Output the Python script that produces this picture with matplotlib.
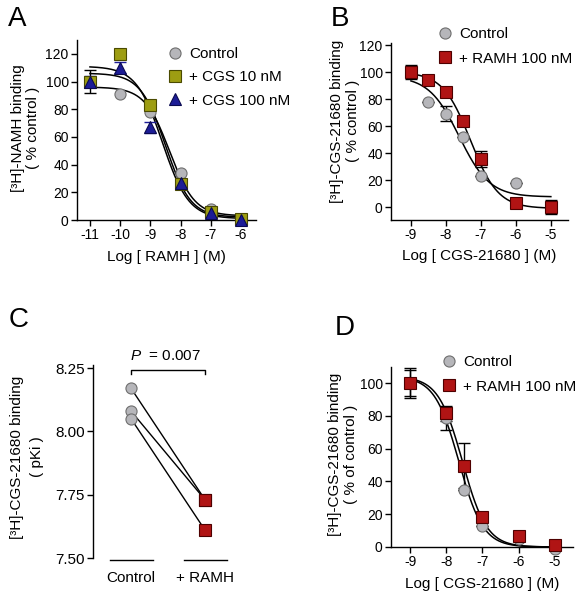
import matplotlib.pyplot as plt
import numpy as np

plt.rcParams['font.family'] = ['Liberation Sans', 'DejaVu Sans']
plt.rcParams['mathtext.fontset'] = 'custom'
plt.rcParams['mathtext.rm'] = 'Liberation Sans'
plt.rcParams['mathtext.it'] = 'Liberation Sans:italic'
plt.rcParams['axes.unicode_minus'] = False

# ---- panel A data: [3H]-NAMH binding vs log[RAMH]
a_logx = [-11, -10, -9, -8, -7, -6]
a_ctrl = [100, 91, 78, 34, 8, 1]
a_cgs10 = [100, 120, 83, 26, 6, 0.5]
a_cgs100 = [100, 110, 67, 27, 5, 0]
a_cgs10_err = [8, 0, 0, 2, 0, 0]
a_cgs100_err = [4, 4, 4, 2, 0, 0]
# fit params: top, bottom, logIC50, hill
a_fit_ctrl = [96, 3, -8.36, 1.05]
a_fit_cgs10 = [106, 2, -8.5, 1.05]
a_fit_cgs100 = [111, 1, -8.6, 1.0]

# ---- panel B data: [3H]-CGS-21680 binding vs log[CGS-21680]
b_logx = [-9, -8.5, -8, -7.5, -7, -6, -5]
b_ctrl = [100, 77.5, 69, 51.6, 23, 18, 0]
b_ramh = [100, 94, 85.5, 64, 35.5, 3, 0]
b_ctrl_err = [0, 0, 5.5, 0, 0, 0, 0]
b_ramh_err = [5, 3, 0, 0, 6, 0, 5]
b_fit_ctrl = [97, 7.5, -7.62, 1.0]
b_fit_ramh = [100, -1, -7.3, 1.1]

# ---- panel C data: pKi
c_groups = ['Control', '+ RAMH']
c_ctrl = [8.17, 8.08, 8.05]
c_ramh = [7.73, 7.73, 7.61]
c_pvalue = '0.007'

# ---- panel D data
d_logx = [-9, -8, -7.5, -7, -6, -5]
d_ctrl = [100, 78.5, 35, 13, 5, -1]
d_ramh = [100, 81.5, 49.6, 18, 6.7, 1.2]
d_ctrl_err = [8, 7.2, 0, 0, 0, 0]
d_ramh_err = [9, 4.5, 13.6, 0, 0, 0]
d_fit_ctrl = [104, 0, -7.65, 1.3]
d_fit_ramh = [104, 0, -7.55, 1.3]

GRAY = '#b6b6ba'
GRAY_E = '#6e6e6e'
OLIVE = '#9d9d12'
OLIVE_E = '#4a4a00'
NAVY = '#1c1c96'
NAVY_E = '#0a0a50'
RED = '#b01414'
RED_E = '#4e0000'

W, H = 586, 600


def logistic(x, top, bottom, logic50, hill):
    return bottom + (top - bottom) / (1 + 10 ** ((x - logic50) * hill))


def rect(left, right, top, bottom):
    return [left / W, 1 - bottom / H, (right - left) / W, (bottom - top) / H]


def style(ax):
    for s in ['top', 'right']:
        ax.spines[s].set_visible(False)
    for s in ['left', 'bottom']:
        ax.spines[s].set_linewidth(1.0)
    ax.tick_params(direction='out', length=4, width=1.0, labelsize=10, pad=2)


def curve(ax, logx, params):
    xs = np.linspace(min(logx), max(logx), 300)
    ax.plot(xs, logistic(xs, *params), color='black', lw=1.1, zorder=2)


def points(ax, x, y, err, marker, fc, ec, label, ms=8, ecol='black'):
    if err is not None:
        ax.errorbar(x, y, yerr=err, fmt='none', ecolor=ecol, elinewidth=1,
                    capsize=4, capthick=1, zorder=3, clip_on=False)
    ax.plot(x, y, linestyle='none', marker=marker, ms=ms, mfc=fc, mec=ec,
            mew=0.8, label=label, zorder=4, clip_on=False)


def legend(ax, x, y, spacing):
    ax.legend(loc='upper left', bbox_to_anchor=(x / W, 1 - y / H),
              bbox_transform=fig.transFigure, frameon=False, borderpad=0,
              borderaxespad=0, handlelength=1.0, handletextpad=0.45,
              labelspacing=spacing, fontsize=11, numpoints=1)


fig = plt.figure(figsize=(W / 100, H / 100), dpi=100)

# ---------------- A
ax = fig.add_axes(rect(77, 256, 40, 220))
style(ax)
for params in (a_fit_ctrl, a_fit_cgs10, a_fit_cgs100):
    curve(ax, a_logx, params)
points(ax, a_logx, a_ctrl, None, 'o', GRAY, GRAY_E, 'Control')
points(ax, a_logx, a_cgs10, a_cgs10_err, 's', OLIVE, OLIVE_E, '+ CGS 10 nM')
points(ax, a_logx, a_cgs100, a_cgs100_err, '^', NAVY, NAVY_E, '+ CGS 100 nM',
       ms=8.5, ecol=NAVY)
ax.set_xlim(-11.43, -5.5)
ax.set_ylim(0, 130)
ax.set_xticks(a_logx)
ax.set_yticks(range(0, 121, 20))
ax.set_xlabel('Log [ RAMH ] (M)', fontsize=11)
ax.xaxis.set_label_coords(0.5, -0.165)
legend(ax, 167, 47, 0.61)
fig.text(25.5 / W, 1 - 128 / H, '[³H]-NAMH binding\n( % control )',
         rotation=90, ha='center', va='center', fontsize=11, linespacing=1.15)
fig.text(8 / W, 1 - 26 / H, 'A', fontsize=20, ha='left', va='baseline')

# ---------------- B
ax = fig.add_axes(rect(391, 568, 43, 220))
style(ax)
curve(ax, b_logx, b_fit_ctrl)
curve(ax, b_logx, b_fit_ramh)
points(ax, b_logx, b_ctrl, b_ctrl_err, 'o', GRAY, GRAY_E, 'Control')
points(ax, b_logx, b_ramh, b_ramh_err, 's', RED, RED_E, '+ RAMH 100 nM')
ax.set_xlim(-9.57, -4.51)
ax.set_ylim(-9.6, 121.5)
ax.set_xticks([-9, -8, -7, -6, -5])
ax.set_yticks(range(0, 121, 20))
ax.set_xlabel('Log [ CGS-21680 ] (M)', fontsize=11)
ax.xaxis.set_label_coords(0.5, -0.165)
legend(ax, 437, 27, 0.7)
fig.text(345 / W, 1 - 121 / H, '[³H]-CGS-21680 binding\n( % control )',
         rotation=90, ha='center', va='center', fontsize=11, linespacing=1.15)
fig.text(331 / W, 1 - 26 / H, 'B', fontsize=20, ha='left', va='baseline')

# ---------------- C
ax = fig.add_axes(rect(93, 235, 365, 558))
for s in ['top', 'right', 'bottom']:
    ax.spines[s].set_visible(False)
ax.spines['left'].set_linewidth(1.0)
ax.tick_params(axis='y', direction='out', length=4, width=1.0, labelsize=11, pad=2)
ax.tick_params(axis='x', length=0, labelsize=11, pad=9)
for yc, yr in zip(c_ctrl, c_ramh):
    ax.plot([0, 1], [yc, yr], color='black', lw=1.0, zorder=2)
ax.plot([0] * len(c_ctrl), c_ctrl, linestyle='none', marker='o', ms=8,
        mfc=GRAY, mec=GRAY_E, mew=0.8, zorder=3)
ax.plot([1] * len(c_ramh), c_ramh, linestyle='none', marker='s', ms=8,
        mfc=RED, mec=RED_E, mew=0.8, zorder=3)
for i in range(len(c_groups)):
    ax.plot([i - 0.29, i + 0.3], [7.493, 7.493], color='black', lw=1.0,
            clip_on=False)
ax.plot([0, 0, 1, 1], [8.226, 8.242, 8.242, 8.226], color='black', lw=1.0,
        clip_on=False)
ax.text(0.47, 8.268, r'$\it{P}$  = ' + c_pvalue, ha='center', va='bottom',
        fontsize=11)
ax.set_xlim(-0.514, 1.405)
ax.set_ylim(7.5, 8.262)
ax.set_xticks(range(len(c_groups)))
ax.set_xticklabels(c_groups)
ax.set_yticks([7.5, 7.75, 8.0, 8.25])
ax.set_yticklabels(['7.50', '7.75', '8.00', '8.25'])
fig.text(27 / W, 1 - 457 / H, '[³H]-CGS-21680 binding\n( pKi )',
         rotation=90, ha='center', va='center', fontsize=11, linespacing=1.5)
fig.text(9 / W, 1 - 327 / H, 'C', fontsize=20, ha='left', va='baseline')

# ---------------- D
ax = fig.add_axes(rect(391, 573, 367, 547))
style(ax)
curve(ax, d_logx, d_fit_ctrl)
curve(ax, d_logx, d_fit_ramh)
points(ax, d_logx, d_ctrl, d_ctrl_err, 'o', GRAY, GRAY_E, 'Control')
points(ax, d_logx, d_ramh, d_ramh_err, 's', RED, RED_E, '+ RAMH 100 nM')
ax.set_xlim(-9.525, -4.5)
ax.set_ylim(0, 109.8)
ax.set_xticks([-9, -8, -7, -6, -5])
ax.set_yticks(range(0, 101, 20))
ax.set_xlabel('Log [ CGS-21680 ] (M)', fontsize=11)
ax.xaxis.set_label_coords(0.5, -0.165)
legend(ax, 441, 355, 0.7)
fig.text(343 / W, 1 - 454 / H, '[³H]-CGS-21680 binding\n( % of control )',
         rotation=90, ha='center', va='center', fontsize=11, linespacing=1.15)
fig.text(335 / W, 1 - 335 / H, 'D', fontsize=20, ha='left', va='baseline')

fig.savefig('out.png', dpi=100)
